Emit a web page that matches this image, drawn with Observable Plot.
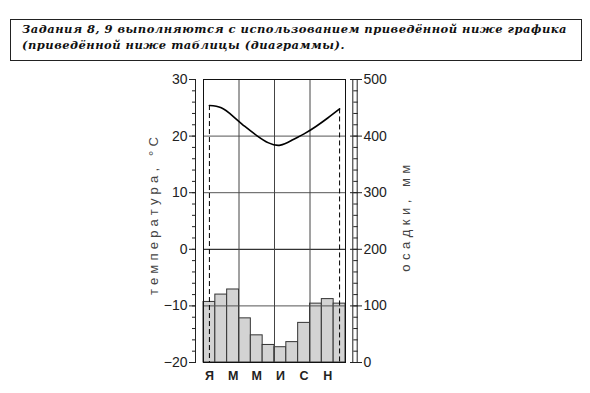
<!DOCTYPE html>
<html>
<head>
<meta charset="utf-8">
<script src="https://cdn.jsdelivr.net/npm/d3@7"></script>
<script src="https://cdn.jsdelivr.net/npm/@observablehq/plot@0.6"></script>
<style>
  html, body { margin: 0; padding: 0; background: #fff; }
  #wrap { position: relative; width: 590px; height: 393px; overflow: hidden; }
  #box { position: absolute; left: 10px; top: 19px; width: 570px; height: 40px; border: 1.5px solid #222; }
  #title { position: absolute; left: 22px; top: 20.5px; font-family: "DejaVu Serif", serif; font-weight: bold; font-style: italic; font-size: 11.5px; line-height: 16px; color: #111; white-space: nowrap; }
  #title span { display: inline-block; }
</style>
</head>
<body>
<div id="wrap">
  <div id="box"></div>
  <div id="title"><span id="l1">Задания 8, 9 выполняются с использованием приведённой ниже графика</span><br><span id="l2">(приведённой ниже таблицы (диаграммы).</span></div>
</div>
<script>
const months = [1,2,3,4,5,6,7,8,9,10,11,12];
const temperature = [25.4,25.0,23.5,21.7,20.1,18.8,18.4,19.3,20.4,21.7,23.2,24.8];
const precipitation = [107,120,129,78,48,31,27,36,70,104,112,104];
const labelMonths = [1,3,5,7,9,11];
const monthLetters = ["Я","М","М","И","С","Н"];
const tempTicks = [-20,-10,0,10,20,30];
const minorTicks = d3.range(-20, 31, 2);
const leftTitle = "температура, °С";
const rightTitle = "осадки, мм";

// precipitation (mm) shares the vertical scale: 0 mm ↔ −20 °C, 10 mm per °C
const p2t = p => -20 + p / 10;
const t2p = t => (t + 20) * 10;

const W = 590, H = 393, MT = 79, MB = 31;
const data = months.map((m, i) => ({m, t: temperature[i], p: precipitation[i]}));
const ends = [data[0], data[data.length - 1]];
const wrap = document.getElementById("wrap");
const baseStyle = {fontFamily: "'Liberation Sans', Arial, sans-serif", fontSize: "14px", color: "#222", background: "transparent", overflow: "visible"};

// stretch the heading's letter spacing so the first line spans the box like the original
(function fitTitle() {
  const l1 = document.getElementById("l1");
  const n = l1.textContent.length;
  const w = l1.getBoundingClientRect().width;
  const ls = Math.max(0, (545 - w) / n);
  document.getElementById("title").style.letterSpacing = ls + "px";
})();

function addLayer(svg) {
  svg.style.position = "absolute";
  svg.style.left = "0px";
  svg.style.top = "0px";
  wrap.appendChild(svg);
}

// main chart
addLayer(Plot.plot({
  width: W, height: H, marginTop: MT, marginBottom: MB, marginLeft: 203, marginRight: 245,
  style: {...baseStyle, fontSize: "12.5px", fontWeight: "bold"},
  x: {domain: [0.5, 12.5], ticks: labelMonths, tickFormat: m => monthLetters[labelMonths.indexOf(m)], tickSize: 0, tickPadding: 9, label: null},
  y: {domain: [-20, 30], axis: null},
  marks: [
    Plot.rectY(data, {x1: d => d.m - 0.5, x2: d => d.m + 0.5, y1: -20, y2: d => p2t(d.p), fill: "#d3d3d3", stroke: "#333", strokeWidth: 1}),
    Plot.ruleY([-10, 10, 20], {stroke: "#555", strokeWidth: 1}),
    Plot.ruleY([0], {stroke: "#000", strokeWidth: 1}),
    Plot.ruleX([3.5, 6.5, 9.5], {stroke: "#444", strokeWidth: 1}),
    Plot.frame({stroke: "#111", strokeWidth: 1}),
    Plot.line(data, {x: "m", y: "t", curve: "natural", stroke: "#000", strokeWidth: 1.6}),
    Plot.ruleX(ends, {x: "m", y1: "t", y2: -20, stroke: "#000", strokeWidth: 1, strokeDasharray: "5,3"}),
    Plot.text([leftTitle], {text: d => d, frameAnchor: "left", textAnchor: "middle", dx: -50, dy: -7, rotate: -90, fontSize: 13, fontWeight: "normal", fill: "#444"}),
    Plot.text([rightTitle], {text: d => d, frameAnchor: "right", textAnchor: "middle", dx: 60, dy: -5, rotate: -90, fontSize: 13, fontWeight: "normal", fill: "#444"})
  ]
}));

// axis layer helper: the y axis is drawn on the frame edge placed at pixel `edge`
function axisLayer({anchor, edge, ticks, tickSize, tickFormat, tickPadding = 2, line = false}) {
  const marginLeft = anchor === "left" ? edge : edge - 1;
  const marginRight = anchor === "left" ? W - edge - 1 : W - edge;
  return Plot.plot({
    width: W, height: H, marginTop: MT, marginBottom: MB, marginLeft, marginRight,
    style: baseStyle,
    x: {axis: null},
    y: {domain: [-20, 30], axis: anchor, ticks, tickSize, tickFormat, tickPadding, line, label: null},
    marks: [Plot.ruleY(tempTicks, {strokeOpacity: 0})]
  });
}

// left axis: line + minor ticks every 2 °C + major ticks with labels
addLayer(axisLayer({anchor: "left", edge: 195, ticks: minorTicks, tickSize: 3, tickFormat: () => "", line: true}));
addLayer(axisLayer({anchor: "left", edge: 195, ticks: tempTicks, tickSize: 6, tickPadding: 2}));

// right ladder axis (precipitation)
addLayer(axisLayer({anchor: "right", edge: 352.3, ticks: minorTicks, tickSize: 4.4, tickFormat: () => "", line: true}));
addLayer(axisLayer({anchor: "left", edge: 356.7, ticks: minorTicks, tickSize: 0, tickFormat: () => "", line: true}));
addLayer(axisLayer({anchor: "right", edge: 349, ticks: tempTicks, tickSize: 12, tickPadding: 2, tickFormat: t => String(t2p(t))}));

// spaced-out lettering of the axis titles
wrap.querySelectorAll("text").forEach(t => {
  if (t.textContent === leftTitle) t.style.letterSpacing = "4.2px";
  if (t.textContent === rightTitle) t.style.letterSpacing = "4.5px";
});
</script>
</body>
</html>
